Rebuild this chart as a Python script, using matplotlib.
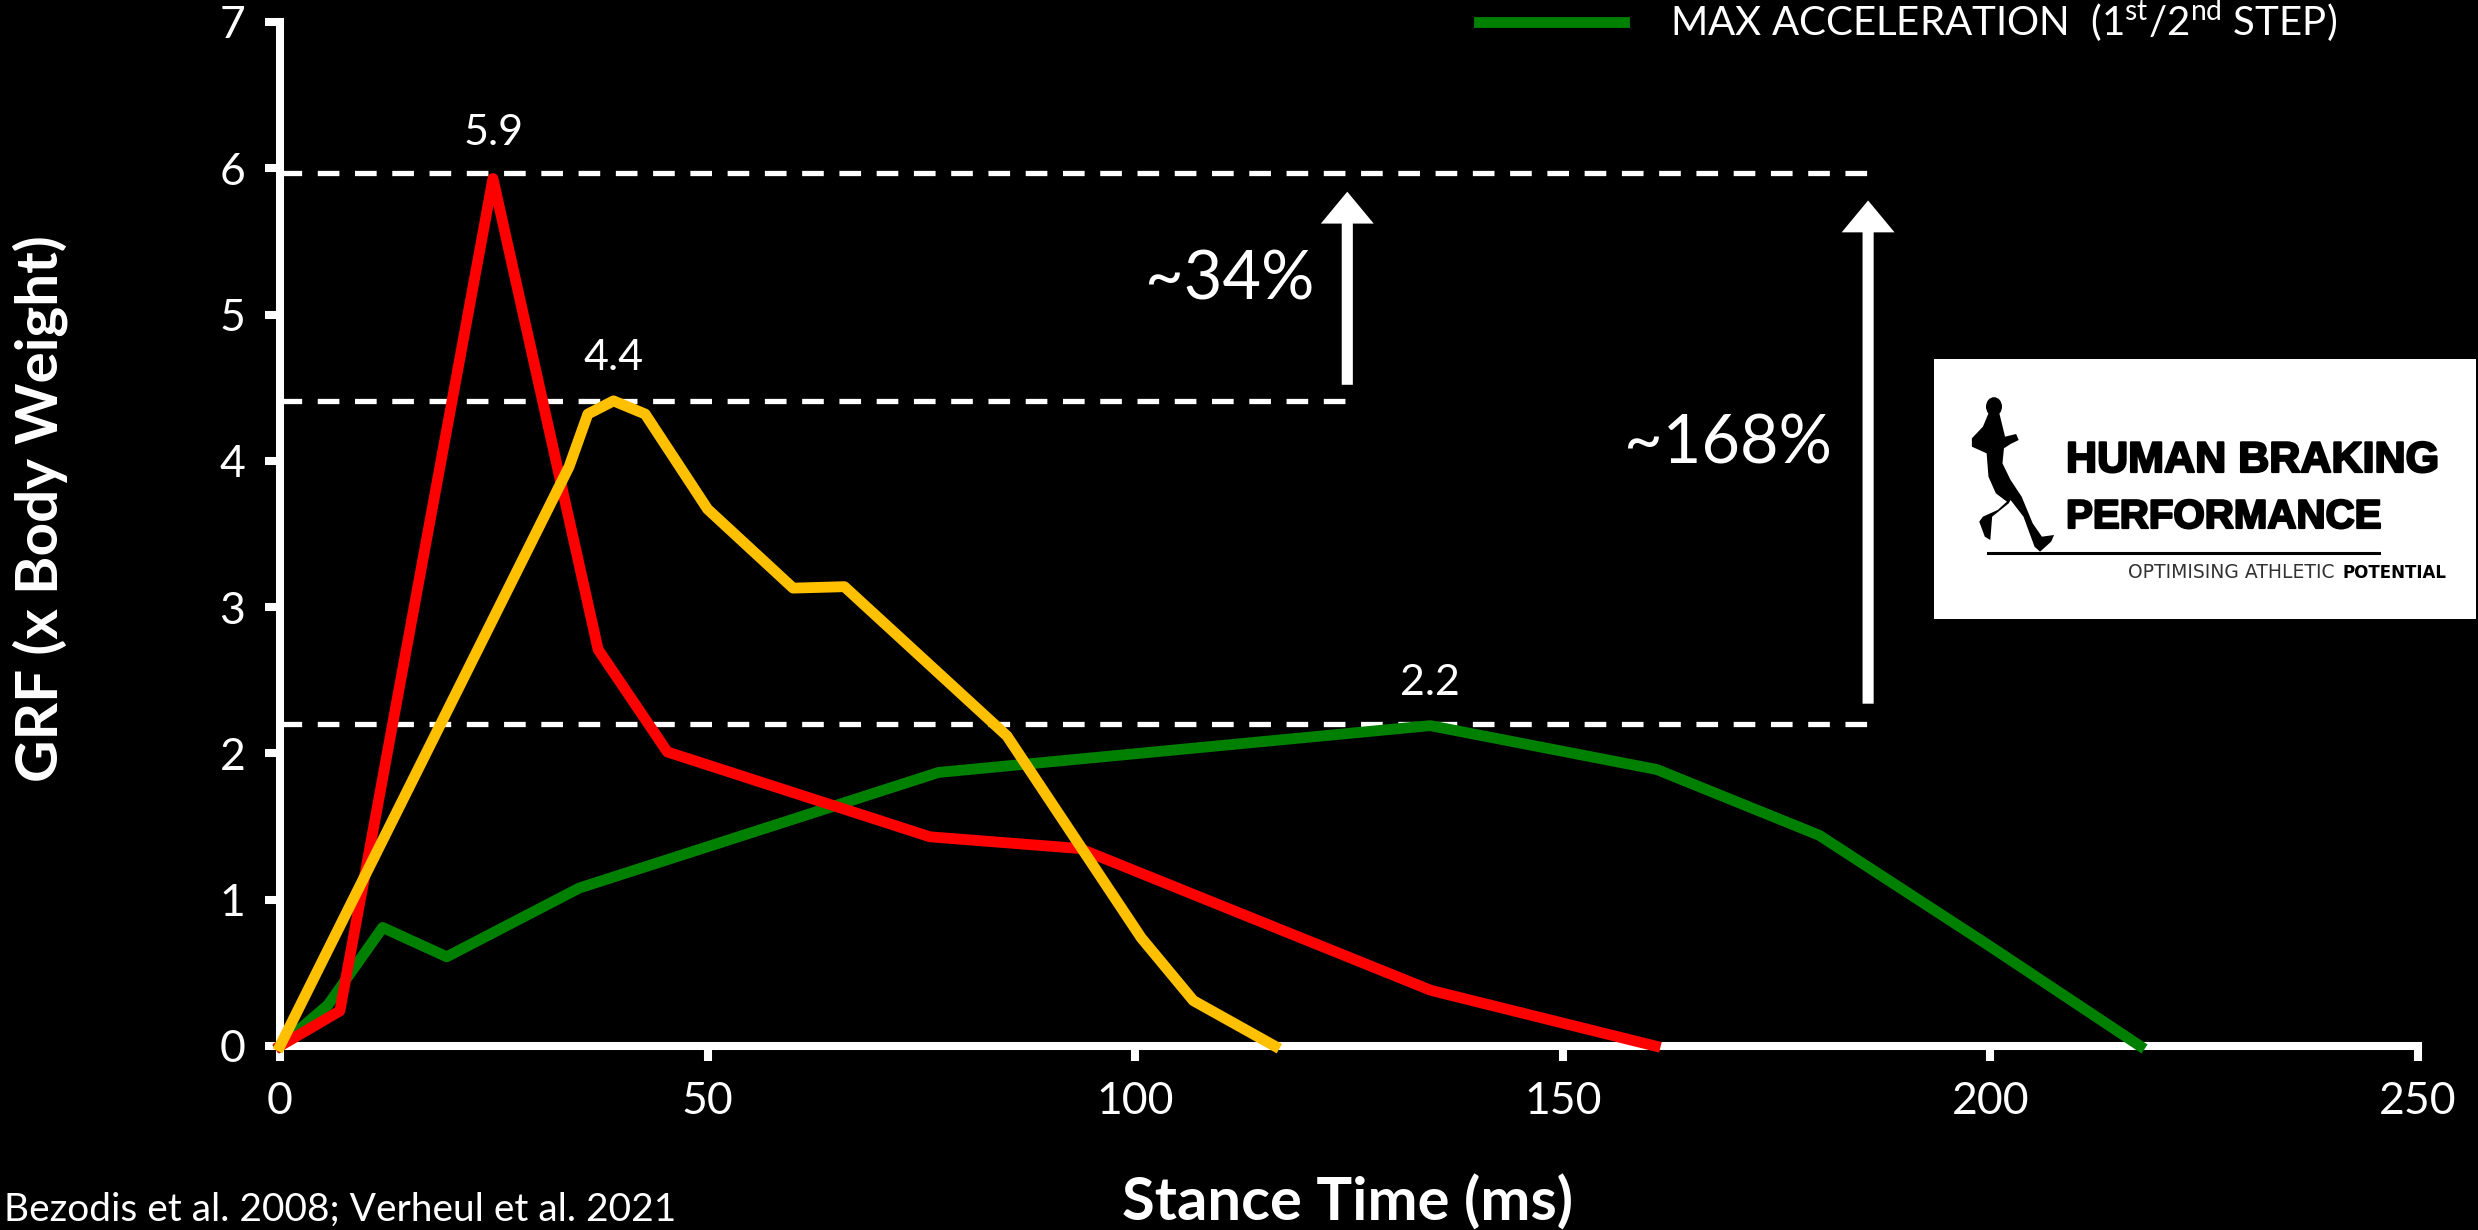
import matplotlib
matplotlib.use("Agg")
import matplotlib.pyplot as plt
import matplotlib.patheffects as pe
from matplotlib.patches import Polygon, Rectangle, Ellipse
from matplotlib.lines import Line2D

plt.rcParams['font.family'] = ['Lato', 'DejaVu Sans']
plt.rcParams['mathtext.fontset'] = 'custom'
plt.rcParams['mathtext.rm'] = 'Lato'

W, H = 2478, 1230

# curves
red_x = [0, 7, 24.9, 37.2, 45.3, 76, 93.5, 134.6, 160.8]
red_y = [0, 0.24, 5.93, 2.71, 2.01, 1.43, 1.35, 0.38, 0]
orange_x = [0, 33.8, 36, 39, 42.7, 50, 60, 66, 85, 100.7, 106.8, 116.3]
orange_y = [0, 3.96, 4.32, 4.41, 4.32, 3.67, 3.13, 3.14, 2.12, 0.74, 0.31, 0]
green_x = [0, 5.6, 12, 19.5, 35, 77, 134.5, 161, 180, 200, 217.5]
green_y = [0, 0.28, 0.81, 0.61, 1.08, 1.87, 2.19, 1.89, 1.44, 0.68, 0]

# dashed levels: value, x end
level_y = [5.97, 4.41, 2.2]
level_end = [185.7, 124.8, 185.7]
# arrows: x, start y, end y
arrow_x = [124.8, 185.7]
arrow_from = [4.52, 2.34]
arrow_to = [5.84, 5.78]

peak_labels = ["5.9", "4.4", "2.2"]
peak_x = [25, 39, 134.5]
peak_y = [6.24, 4.7, 2.48]

x_ticks = [0, 50, 100, 150, 200, 250]
y_ticks = [0, 1, 2, 3, 4, 5, 6, 7]


def px(x, y):
    # full size pixel to figure fraction
    return (x / W, 1 - y / H)


fig = plt.figure(figsize=(W / 100, H / 100), dpi=100, facecolor='black')
ax = fig.add_axes([280 / W, 1 - 1046 / H, (2418 - 280) / W, (1046 - 22) / H])
ax.set_facecolor('black')
ax.set_xlim(0, 250)
ax.set_ylim(0, 7)

for y, xe in zip(level_y, level_end):
    ax.plot([0, xe], [y, y], color='white', lw=3.8, dashes=(4.1, 2.96), dash_capstyle='butt', zorder=2)

ax.plot(green_x, green_y, color='#008000', lw=7.8, solid_joinstyle='round', clip_on=False, zorder=3,
        label=r'MAX ACCELERATION  (1$^{\mathrm{st}}$/2$^{\mathrm{nd}}$ STEP)')
ax.plot(red_x, red_y, color='#ff0000', lw=7.8, solid_joinstyle='round', clip_on=False, zorder=4)
ax.plot(orange_x, orange_y, color='#ffc000', lw=7.8, solid_joinstyle='round', clip_on=False, zorder=5)

for x, y0, y1 in zip(arrow_x, arrow_from, arrow_to):
    ax.annotate('', xy=(x, y1), xytext=(x, y0),
                arrowprops=dict(arrowstyle='simple,head_length=0.82,head_width=1.36,tail_width=0.286',
                                facecolor='white', edgecolor='none', lw=0, shrinkA=0, shrinkB=0,
                                mutation_scale=28))

for s, x, y in zip(peak_labels, peak_x, peak_y):
    ax.text(x, y, s, color='white', fontsize=31, ha='center', va='center')

ax.text(111, 5.23, '~34%', color='white', fontsize=48, ha='center', va='center')
ax.text(169.3, 4.11, '~168%', color='white', fontsize=48, ha='center', va='center')

for s in ['top', 'right']:
    ax.spines[s].set_visible(False)
for s in ['left', 'bottom']:
    ax.spines[s].set_color('white')
    ax.spines[s].set_linewidth(5.8)
ax.set_xticks(x_ticks)
ax.set_yticks(y_ticks)
ax.tick_params(axis='both', colors='white', width=5.8, length=11, labelsize=32, pad=14)

leg = ax.legend(loc='upper left', frameon=False, fontsize=29, labelcolor='white', handlelength=3.6,
                handletextpad=1.15, borderpad=0, borderaxespad=0)
leg.set_bbox_to_anchor((1479 / W, 1.002), transform=fig.transFigure)

x0, y0 = px(40, 509)
fig.text(x0, y0, 'GRF (x Body Weight)', color='white', fontsize=42, fontweight='bold',
         rotation=90, ha='center', va='center')
x0, y0 = px(1348, 1203)
fig.text(x0, y0, 'Stance Time (ms)', color='white', fontsize=43, fontweight='bold', ha='center', va='center')
x0, y0 = px(4, 1210)
fig.text(x0, y0, 'Bezodis et al. 2008; Verheul et al. 2021', color='white', fontsize=28, ha='left', va='center')

# logo box
lx, ly = px(1934, 619)
fig.add_artist(Rectangle((lx, ly), (2476 - 1934) / W, (619 - 359) / H, transform=fig.transFigure,
                         facecolor='white', edgecolor='none', zorder=6))
# runner silhouette, points taken from a crop of the logo
runner = [(240, 220), (270, 222), (285, 290), (315, 282), (322, 300), (300, 312), (282, 325), (278, 370),
          (300, 420), (330, 470), (360, 550), (385, 590), (418, 585), (410, 605), (380, 635), (365, 620),
          (335, 530), (300, 480), (295, 490), (250, 530), (245, 600), (230, 590), (215, 545), (225, 530),
          (265, 510), (290, 485), (260, 460), (240, 410), (235, 340), (195, 320), (195, 295), (225, 260)]
runner_pts = [px(1900 + a / 2.713, 340 + b / 3) for a, b in runner]
fig.add_artist(Polygon(runner_pts, closed=True, transform=fig.transFigure, facecolor='black',
                       edgecolor='none', zorder=7))
hx, hy = px(1900 + 255 / 2.713, 340 + 200 / 3)
fig.add_artist(Ellipse((hx, hy), 16 / W, 19 / H, transform=fig.transFigure, facecolor='black',
                       edgecolor='none', zorder=7))
a0, b0 = px(1988, 553)
a1, b1 = px(2379, 553)
fig.add_artist(Line2D([a0, a1], [b0, b1], transform=fig.transFigure, color='black', lw=2.2, zorder=7))

# no condensed face installed, so the size follows the width of the logo text
heavy = [pe.withStroke(linewidth=1.6, foreground='black')]
x0, y0 = px(2066, 461)
fig.text(x0, y0, 'HUMAN BRAKING', color='black', fontsize=31, fontweight='bold', family='Liberation Sans',
         ha='left', va='center', zorder=8, path_effects=heavy)
x0, y0 = px(2066, 517)
fig.text(x0, y0, 'PERFORMANCE', color='black', fontsize=29, fontweight='bold', family='Liberation Sans',
         ha='left', va='center', zorder=8, path_effects=heavy)
x0, y0 = px(2128, 573)
fig.text(x0, y0, 'OPTIMISING ATHLETIC', color='#333333', fontsize=13.5, family='DejaVu Sans',
         ha='left', va='center', zorder=8)
x0, y0 = px(2446, 573)
fig.text(x0, y0, 'POTENTIAL', color='black', fontsize=12, fontweight='bold', family='DejaVu Sans',
         ha='right', va='center', zorder=8)

fig.savefig('out.png', dpi=100, facecolor='black')
